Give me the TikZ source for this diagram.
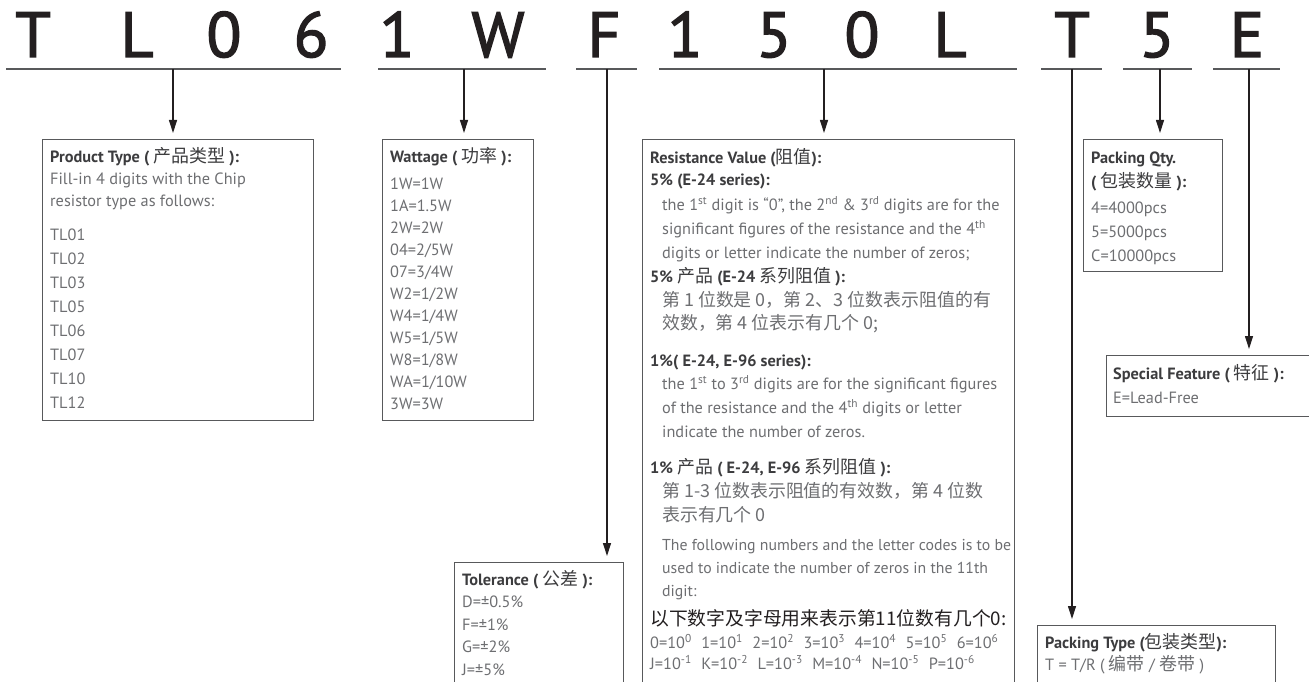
\documentclass[tikz,border=0pt]{standalone}
\usepackage{fontspec}
\setmainfont{PT Sans}
\newfontfamily\codefont{PT Sans}[FakeBold=2]
\newfontfamily\cjkfont{Noto Sans CJK SC}[Scale=1.1]
\usetikzlibrary{arrows.meta}
\definecolor{ink}{HTML}{231F20}
\definecolor{rulegray}{HTML}{58595B}
\definecolor{headgray}{HTML}{3C3C3E}
\definecolor{bodygray}{HTML}{6D6E71}
\newcommand\cn[1]{{\cjkfont\mdseries #1}}
\newcommand\hd[1]{{\color{headgray}\bfseries #1}}
\newcommand\sps[1]{\textsuperscript{#1}}
\newcommand\topstrut{\rule{0pt}{15pt}}

\begin{document}
\begin{tikzpicture}[x=1pt,y=-1pt,
    codechar/.style={font=\codefont\fontsize{64}{64}\selectfont,text=ink,anchor=base,inner sep=0pt},
    codeline/.style={draw=rulegray,line width=2.4pt},
    pointer/.style={draw=ink,line width=1.2pt,-{Triangle[length=13pt,width=8pt]},shorten >=6pt},
    infobox/.style={draw=rulegray,line width=1.3pt,anchor=north west,inner sep=0pt},
    infotext/.style={anchor=north west,align=left,inner sep=0pt,text=bodygray,
      font=\fontsize{16.3}{#1}\selectfont}]
  \useasboundingbox (0,0) rectangle (1309,682);
  \clip (0,0) rectangle (1309,682);

  % part number, one character per slot
  \foreach \x/\ch [count=\i] in {33/T,137/L,224/0,311/6,397/1,498/W,604/F,
      685/1,774/5,862/0,950/L,1072/T,1157/5,1247/E}
    \node[codechar] (ch\i) at (\x,57) {\ch};
  \foreach \a/\b in {6/341,378/546,576/637,659/1017,1041/1102,1123/1192,1213/1280}
    \draw[codeline] (\a,69) -- (\b,69);

  \coordinate (u1) at (173,69);
  \coordinate (u2) at (464,69);
  \coordinate (u3) at (607,69);
  \coordinate (u4) at (824,69);
  \coordinate (u5) at (1072,69);
  \coordinate (u6) at (1160,69);
  \coordinate (u7) at (1249,69);

  % frames
  \node[infobox,minimum width=271pt,minimum height=281pt] (ptype) at (42,139) {};
  \node[infobox,minimum width=151pt,minimum height=281pt] (watt) at (382,139) {};
  \node[infobox,minimum width=169pt,minimum height=140pt] (tol) at (454,562) {};
  \node[infobox,minimum width=372pt,minimum height=570pt] (resv) at (642,139) {};
  \node[infobox,minimum width=139pt,minimum height=132pt] (pqty) at (1083,139) {};
  \node[infobox,minimum width=220pt,minimum height=61pt] (spec) at (1106,355) {};
  \node[infobox,minimum width=238pt,minimum height=80pt] (ptyp) at (1037,625) {};

  \draw[pointer] (u1) -- (u1 |- ptype.north);
  \draw[pointer] (u2) -- (u2 |- watt.north);
  \draw[pointer] (u3) -- (u3 |- tol.north);
  \draw[pointer] (u4) -- (u4 |- resv.north);
  \draw[pointer] (u5) -- (u5 |- ptyp.north);
  \draw[pointer] (u6) -- (u6 |- pqty.north);
  \draw[pointer] (u7) -- (u7 |- spec.north);

  \node[infotext=24] (ptypetxt) at ([shift={(8,8)}]ptype.north west) {%
    \topstrut\hd{Product Type ( \cn{产品类型} ):}\\[-2pt]
    Fill-in 4 digits with the Chip\\[-2pt]
    resistor type as follows:\\[10pt]
    TL01\\ TL02\\ TL03\\ TL05\\ TL06\\ TL07\\ TL10\\ TL12};

  \node[infotext=22] (watttxt) at ([shift={(8,8)}]watt.north west) {%
    \topstrut\hd{Wattage ( \cn{功率} ):}\\[5pt]
    1W=1W\\ 1A=1.5W\\ 2W=2W\\ 04=2/5W\\ 07=3/4W\\ W2=1/2W\\
    W4=1/4W\\ W5=1/5W\\ W8=1/8W\\ WA=1/10W\\ 3W=3W};

  \node[infotext=22.5] (toltxt) at ([shift={(8,8)}]tol.north west) {%
    \topstrut\hd{Tolerance ( \cn{公差} ):}\\
    D=±0.5\%\\ F=±1\%\\ G=±2\%\\ J=±5\%};

  \node[infotext=23.8] (resvtxt) at ([shift={(8,9)}]resv.north west) {%
    \topstrut\hd{Resistance Value (\cn{阻值}):}\\[-1.5pt]
    \hd{5\% (E-24 series):}\\[1.5pt]
    \hspace*{12pt}the 1\sps{st} digit is “0”, the 2\sps{nd} \& 3\sps{rd} digits are for the\\
    \hspace*{12pt}significant figures of the resistance and the 4\sps{th}\\
    \hspace*{12pt}digits or letter indicate the number of zeros;\\
    \hd{5\% \cn{产品} (E-24 \cn{系列阻值} ):}\\
    \hspace*{12pt}\cn{第 1 位数是 0，第 2、3 位数表示阻值的有}\\
    \hspace*{12pt}\cn{效数，第 4 位表示有几个 0;}\\[12.5pt]
    \hd{1\%( E-24, E-96 series):}\\
    \hspace*{12pt}the 1\sps{st} to 3\sps{rd} digits are for the significant figures\\
    \hspace*{12pt}of the resistance and the 4\sps{th} digits or letter\\
    \hspace*{12pt}indicate the number of zeros.\\[12.5pt]
    \hd{1\% \cn{产品} ( E-24, E-96 \cn{系列阻值} ):}\\
    \hspace*{12pt}\cn{第 1-3 位数表示阻值的有效数，第 4 位数}\\
    \hspace*{12pt}\cn{表示有几个 0}\\[5.5pt]
    {\fontsize{15.8}{23.8}\selectfont\hspace*{12pt}The following numbers and the letter codes is to be}\\[-1pt]
    {\fontsize{15.8}{23.8}\selectfont\hspace*{12pt}used to indicate the number of zeros in the 11th}\\[-1pt]
    {\fontsize{15.8}{23.8}\selectfont\hspace*{12pt}digit:}\\[5pt]
    {\color{ink}\cjkfont\fontsize{17.1}{23.8}\selectfont 以下数字及字母用来表示第11位数有几个0:}\\
    0=10\sps{0}\hspace{9.5pt}1=10\sps{1}\hspace{9.5pt}2=10\sps{2}\hspace{9.5pt}3=10\sps{3}\hspace{9.5pt}%
    4=10\sps{4}\hspace{9.5pt}5=10\sps{5}\hspace{9.5pt}6=10\sps{6}\\[-3pt]
    J=10\sps{-1}\hspace{9.5pt}K=10\sps{-2}\hspace{9.5pt}L=10\sps{-3}\hspace{9.5pt}M=10\sps{-4}\hspace{9.5pt}%
    N=10\sps{-5}\hspace{9.5pt}P=10\sps{-6}};

  \node[infotext=24] (pqtytxt) at ([shift={(8,9)}]pqty.north west) {%
    \topstrut\hd{Packing Qty.}\\
    \hd{( \cn{包装数量} ):}\\[2pt]
    4=4000pcs\\ 5=5000pcs\\ C=10000pcs};

  \node[infotext=24] (spectxt) at ([shift={(7,9)}]spec.north west) {%
    \topstrut\hd{Special Feature ( \cn{特征} ):}\\
    E=Lead-Free};

  \node[infotext=22] (ptyptxt) at ([shift={(8,8)}]ptyp.north west) {%
    \topstrut\hd{Packing Type (\cn{包装类型}):}\\
    T = T/R ( \cn{编带} / \cn{卷带} )};
\end{tikzpicture}
\end{document}
